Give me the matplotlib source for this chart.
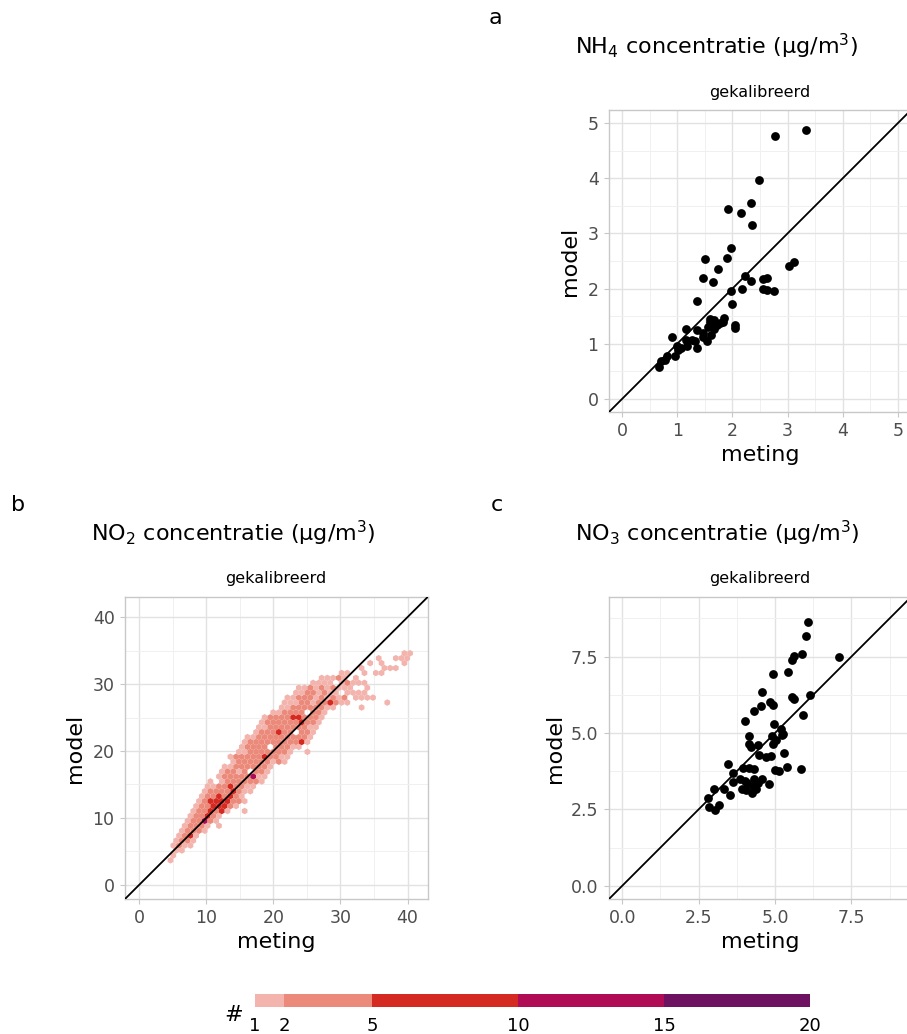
import numpy as np
import matplotlib
matplotlib.use("Agg")
import matplotlib.pyplot as plt
from matplotlib.colors import ListedColormap, BoundaryNorm
from matplotlib.colorbar import ColorbarBase

# DATA

# panel a: NH4 (meting, model)
nh4_meting = [3.34, 2.78, 2.48, 1.92, 2.15, 2.33, 2.35, 1.97, 1.90, 1.50,
              1.73, 1.47, 1.64, 1.35, 1.97, 2.00, 2.22, 2.18, 2.34, 2.55,
              2.62, 2.56, 2.62, 2.75, 3.02, 3.11, 2.04, 2.05, 1.84, 1.82,
              1.72, 1.67, 1.59, 1.55, 1.61, 1.53, 1.47, 1.36, 1.35, 1.32,
              1.15, 1.16, 1.17, 1.06, 0.99, 0.96, 0.90, 0.82, 0.78, 0.70,
              0.67, 1.59, 1.26, 1.46, 1.67, 1.78, 1.02]
nh4_model = [4.88, 4.76, 3.97, 3.45, 3.38, 3.55, 3.16, 2.73, 2.55, 2.53,
             2.35, 2.20, 2.12, 1.77, 1.95, 1.72, 2.23, 2.00, 2.14, 2.17,
             2.19, 2.00, 1.97, 1.95, 2.41, 2.49, 1.34, 1.29, 1.46, 1.40,
             1.34, 1.26, 1.40, 1.31, 1.16, 1.04, 1.19, 1.25, 0.92, 1.04,
             1.26, 1.07, 0.95, 0.92, 0.96, 0.78, 1.12, 0.77, 0.71, 0.68,
             0.57, 1.45, 1.07, 1.13, 1.43, 1.37, 0.89]

# panel c: NO3 (meting, model)
no3_meting = [6.09, 6.00, 7.11, 5.87, 5.62, 5.57, 4.93, 5.41, 4.56, 4.54,
              4.32, 4.84, 4.92, 5.55, 5.61, 6.13, 5.91, 4.02, 4.97, 4.14,
              4.16, 4.23, 4.46, 5.19, 5.22, 4.90, 5.03, 4.95, 5.27, 4.48,
              4.70, 4.86, 5.30, 3.45, 3.64, 5.39, 5.86, 4.99, 5.14, 3.94,
              4.14, 4.32, 3.62, 3.87, 4.03, 3.92, 4.05, 4.25, 4.30, 4.43,
              4.59, 4.81, 4.38, 3.34, 3.53, 3.00, 2.80, 2.83, 3.05, 3.16,
              4.27, 4.10]
no3_model = [8.64, 8.18, 7.50, 7.57, 7.53, 7.39, 6.93, 6.99, 6.34, 5.90,
             5.71, 6.01, 5.93, 6.17, 6.10, 6.26, 5.59, 5.38, 5.28, 4.90,
             4.65, 4.54, 4.61, 5.14, 4.92, 4.90, 4.76, 4.65, 4.98, 4.27,
             4.22, 4.25, 4.35, 4.00, 3.70, 3.89, 3.82, 3.78, 3.76, 3.87,
             3.84, 3.82, 3.40, 3.51, 3.42, 3.18, 3.15, 3.04, 3.48, 3.35,
             3.48, 3.33, 3.18, 3.18, 2.97, 3.18, 2.86, 2.59, 2.48, 2.64,
             3.27, 3.35]

# panel b: NO2 hex cells
# (hex row, first hex column, cells); '.' empty, a=1, b=2-4, c=5-9, d=10-14
no2_rows = [
    (5, 5, "a"),
    (6, 6, "a"),
    (7, 6, "aa"),
    (8, 6, "abaa"),
    (9, 6, "abba"),
    (10, 7, "abca"),
    (11, 7, "abbba"),
    (12, 8, "abbba.a"),
    (13, 8, "abbdba"),
    (14, 9, "abbcba"),
    (15, 9, "abbcbca..a"),
    (16, 10, "abbcccba"),
    (17, 10, "abccccbba"),
    (18, 11, "abbcbcba"),
    (19, 11, "abbbbcbaa"),
    (20, 12, "aabbcbbaa"),
    (21, 12, "a.abbbbbba"),
    (22, 14, "abbbbbdaa"),
    (23, 14, "abbab.bba"),
    (24, 15, "aabbbbbba"),
    (25, 16, "abbbbbbaba"),
    (26, 16, "abbbbbcbbaa"),
    (27, 17, "aabbbbbbba..a"),
    (28, 18, "abbbb.bbbaa"),
    (29, 18, "abbbbbbbbbca"),
    (30, 19, "aabbbbbbbbba"),
    (31, 20, "abbbcbb.bba"),
    (32, 21, "aabbbbbbbaa"),
    (33, 21, "abbbbbbcbba"),
    (34, 22, "abbbbccbbba"),
    (35, 23, "aabbbb.bba"),
    (36, 25, "aabbbbbbaa....a"),
    (37, 25, "aaabbabbcbaa......a"),
    (38, 26, "aabbbababab.aaaa"),
    (39, 27, "aabbabaa.aaaa"),
    (40, 28, "aabababaaa..a"),
    (41, 30, "aaaa.abaaa"),
    (42, 32, "aaaba.a."),
    (43, 35, "aa..a.aa"),
    (44, 39, "a...aaa"),
    (45, 40, "a.a...a"),
    (46, 42, "a..aaa"),
    (47, 46, "aa"),
]
cell_counts = {"a": 1, "b": 3, "c": 7, "d": 12}

count_breaks = [1, 2, 5, 10, 15, 20]
count_colors = ["#F3B4AD", "#EB8A7A", "#D52A21", "#B00C55", "#6E1160"]

# hex grid (meting step, model extent)
HEX_W = 0.85
HEX_NX, HEX_NY = 50, 28
HEX_EXTENT = (0, HEX_NX * HEX_W, 0, HEX_NY * HEX_W * np.sqrt(3))

# FIGURE

FIG_W, FIG_H = 907, 1034
plt.rcParams["font.family"] = ["DejaVu Sans"]
fig = plt.figure(figsize=(FIG_W / 100, FIG_H / 100), dpi=100)


def px_axes(left, top, w, h):
    return fig.add_axes([left / FIG_W, 1 - (top + h) / FIG_H, w / FIG_W, h / FIG_H])


def px_text(x, y, s, **kw):
    kw.setdefault("ha", "center")
    kw.setdefault("va", "center")
    fig.text(x / FIG_W, 1 - y / FIG_H, s, **kw)


def style_panel(ax, lim, major, minor, fmt):
    ax.set_xlim(lim)
    ax.set_ylim(lim)
    ax.set_xticks(major)
    ax.set_yticks(major)
    ax.set_xticks(minor, minor=True)
    ax.set_yticks(minor, minor=True)
    ax.set_xticklabels([fmt.format(v) for v in major])
    ax.set_yticklabels([fmt.format(v) for v in major])
    ax.grid(which="major", color="#E2E2E2", lw=1.0)
    ax.grid(which="minor", color="#F0F0F0", lw=0.7)
    ax.set_axisbelow(True)
    for sp in ax.spines.values():
        sp.set_color("#C8C8C8")
        sp.set_linewidth(1.0)
    ax.tick_params(which="major", length=3.5, width=0.8, color="#C8C8C8",
                   labelsize=12.5, labelcolor="#4D4D4D", pad=4)
    ax.tick_params(which="minor", length=0)
    ax.axline((0, 0), slope=1, color="black", lw=1.3, zorder=3)


def panel_text(cx, top, letter, letter_x, title, model_x):
    # cx = centre of the axes, top = top of the axes (pixels)
    px_text(letter_x, top - 92, letter, fontsize=16)
    px_text(cx - 43, top - 64, title, fontsize=16)
    px_text(cx, top - 18, "gekalibreerd", fontsize=11.5)
    px_text(model_x, top + 151, "model", fontsize=16, rotation=90)
    px_text(cx, top + 345, "meting", fontsize=16)


# a: NH4
ax_a = px_axes(609, 110, 302, 302)
style_panel(ax_a, (-0.24, 5.24), np.arange(0, 6), np.arange(0.5, 5.5, 1.0), "{:.0f}")
ax_a.scatter(nh4_meting, nh4_model, s=40, color="black", lw=0, zorder=4)
panel_text(760, 110, "a", 495, "NH$_4$ concentratie (µg/m$^3$)", 570)

# b: NO2 hexbin
no2_x, no2_y, no2_n = [], [], []
for row, col0, cells in no2_rows:
    for j, ch in enumerate(cells):
        if ch == ".":
            continue
        no2_x.append((col0 + j + 0.5 * (row % 2)) * HEX_W)
        no2_y.append(row * HEX_W * np.sqrt(3) / 2)
        no2_n.append(cell_counts[ch])

cmap = ListedColormap(count_colors)
norm = BoundaryNorm(count_breaks, cmap.N)

ax_b = px_axes(125, 597, 302.7, 302)
style_panel(ax_b, (-2.1, 43.0), np.arange(0, 50, 10), np.arange(5, 45, 10), "{:.0f}")
ax_b.hexbin(no2_x, no2_y, C=no2_n, reduce_C_function=np.sum,
            gridsize=(HEX_NX, HEX_NY), extent=HEX_EXTENT,
            cmap=cmap, norm=norm, linewidths=0, edgecolors="face", zorder=2)
panel_text(276, 597, "b", 18, "NO$_2$ concentratie (µg/m$^3$)", 75)

# c: NO3
ax_c = px_axes(609, 597, 302, 302)
style_panel(ax_c, (-0.43, 9.45), np.arange(0, 10, 2.5), np.arange(1.25, 10, 2.5), "{:.1f}")
ax_c.scatter(no3_meting, no3_model, s=40, color="black", lw=0, zorder=4)
panel_text(760, 597, "c", 497, "NO$_3$ concentratie (µg/m$^3$)", 555)

# colour steps legend
cax = px_axes(255, 994, 555, 13)
cb = ColorbarBase(cax, cmap=cmap, norm=norm, boundaries=count_breaks,
                  spacing="proportional", orientation="horizontal", ticks=count_breaks)
cb.outline.set_visible(False)
cax.tick_params(length=0, labelsize=13, pad=7)
px_text(234, 1015, "#", fontsize=16)

fig.savefig("out.png", dpi=100)
